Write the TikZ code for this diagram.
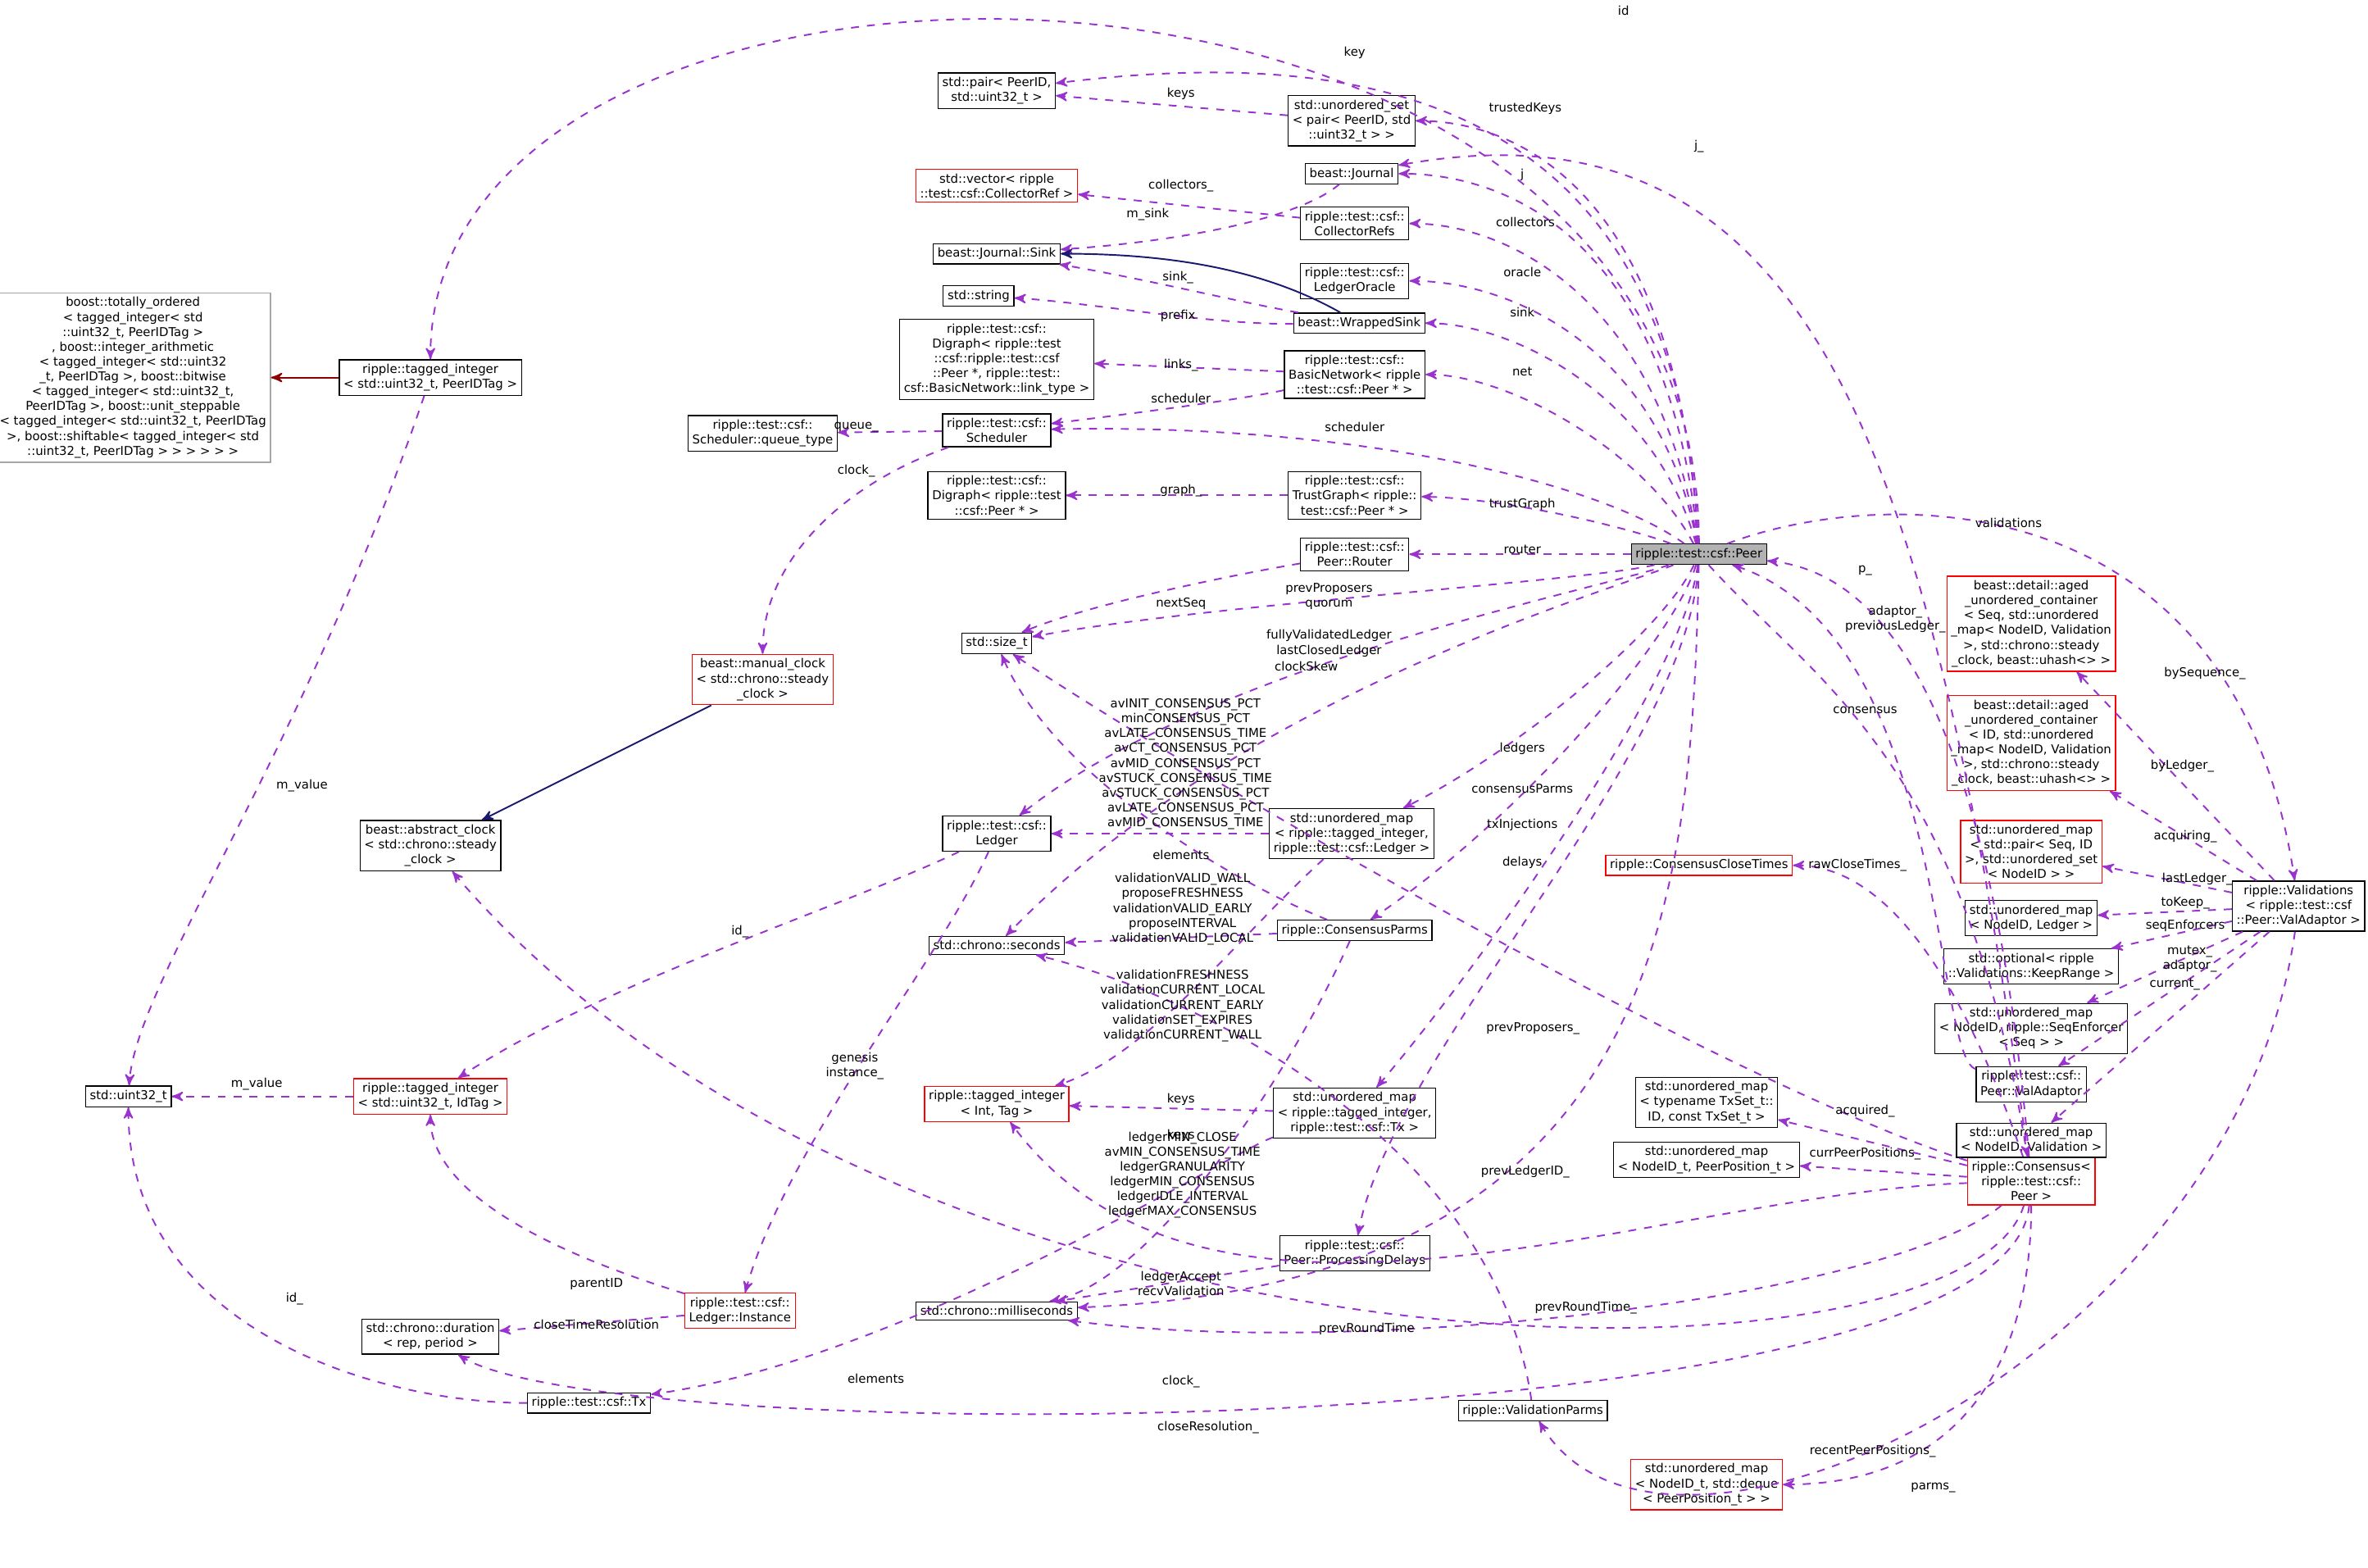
\documentclass[tikz,border=0pt]{standalone}
\usepackage{fontspec}
\setmainfont{DejaVu Sans}
\usetikzlibrary{shapes,arrows}
\definecolor{mem}{HTML}{9A32CD}
\definecolor{inh}{HTML}{191970}
\definecolor{boo}{HTML}{8B0000}
\begin{document}
\begin{tikzpicture}[%
    x=0.02cm, y=-0.02cm,
    font=\fontsize{4.6}{5.6}\selectfont,
    ]
% -------------------------------------------------
% box and connector styles
\tikzset{
  cls/.style={draw, rectangle, align=center, fill=white, inner sep=1.6pt},
  red/.style={cls, draw=red},
  grey/.style={cls, draw=gray!70},
  mm/.style={->, >=stealth', dashed, mem, semithick},
  sub/.style={->, >=stealth', inh, semithick},
  bsub/.style={->, >=stealth', boo, semithick},
  lbl/.style={text=black, align=center, inner sep=0.5pt}
}
\useasboundingbox (0,0) rectangle (1568,1038);
% -------------------------------------------------
% the nodes
\node [cls, fill=gray!60] (peer) at (1125,367) {ripple::test::csf::Peer};
\node [cls] (pair) at (660,60) {std::pair< PeerID,\\ std::uint32\_t >};
\node [cls] (uset) at (895,80) {std::unordered\_set\\< pair< PeerID, std\\::uint32\_t > >};
\node [cls] (jrnl) at (895,115) {beast::Journal};
\node [red] (vec) at (660,123) {std::vector< ripple\\::test::csf::CollectorRef >};
\node [cls] (crefs) at (897,148) {ripple::test::csf::\\CollectorRefs};
\node [cls] (sink) at (660,168) {beast::Journal::Sink};
\node [cls] (oracle) at (897,186) {ripple::test::csf::\\LedgerOracle};
\node [cls] (str) at (648,196) {std::string};
\node [cls] (wsink) at (900,214) {beast::WrappedSink};
\node [cls] (dig1) at (660,238) {ripple::test::csf::\\Digraph< ripple::test\\::csf::ripple::test::csf\\::Peer *, ripple::test::\\csf::BasicNetwork::link\_type >};
\node [cls] (bnet) at (897,248) {ripple::test::csf::\\BasicNetwork< ripple\\::test::csf::Peer * >};
\node [cls] (qtype) at (505,287) {ripple::test::csf::\\Scheduler::queue\_type};
\node [cls] (sched) at (660,285) {ripple::test::csf::\\Scheduler};
\node [cls] (dig2) at (660,328) {ripple::test::csf::\\Digraph< ripple::test\\::csf::Peer * >};
\node [cls] (tgraph) at (897,328) {ripple::test::csf::\\TrustGraph< ripple::\\test::csf::Peer * >};
\node [cls] (router) at (897,367) {ripple::test::csf::\\Peer::Router};
\node [cls] (sizet) at (660,426) {std::size\_t};
\node [red] (mclock) at (505,450) {beast::manual\_clock\\< std::chrono::steady\\\_clock >};
\node [grey] (boost) at (88,250) {boost::totally\_ordered\\< tagged\_integer< std\\::uint32\_t, PeerIDTag >\\, boost::integer\_arithmetic\\< tagged\_integer< std::uint32\\\_t, PeerIDTag >, boost::bitwise\\< tagged\_integer< std::uint32\_t,\\ PeerIDTag >, boost::unit\_steppable\\< tagged\_integer< std::uint32\_t, PeerIDTag\\ >, boost::shiftable< tagged\_integer< std\\::uint32\_t, PeerIDTag > > > > > >};
\node [cls] (tpid) at (285,250) {ripple::tagged\_integer\\< std::uint32\_t, PeerIDTag >};
\node [cls] (aclock) at (285,560) {beast::abstract\_clock\\< std::chrono::steady\\\_clock >};
\node [cls] (ledger) at (660,552) {ripple::test::csf::\\Ledger};
\node [cls] (secs) at (660,626) {std::chrono::seconds};
\node [cls] (lmap) at (895,552) {std::unordered\_map\\< ripple::tagged\_integer,\\ ripple::test::csf::Ledger >};
\node [cls] (cparms) at (897,616) {ripple::ConsensusParms};
\node [red] (cct) at (1125,573) {ripple::ConsensusCloseTimes};
\node [cls] (u32) at (85,726) {std::uint32\_t};
\node [red] (tidt) at (285,726) {ripple::tagged\_integer\\< std::uint32\_t, IdTag >};
\node [red] (tint) at (660,731) {ripple::tagged\_integer\\< Int, Tag >};
\node [cls] (txmap) at (897,737) {std::unordered\_map\\< ripple::tagged\_integer,\\ ripple::test::csf::Tx >};
\node [cls] (pdel) at (897,830) {ripple::test::csf::\\Peer::ProcessingDelays};
\node [cls] (msecs) at (660,868) {std::chrono::milliseconds};
\node [red] (inst) at (490,868) {ripple::test::csf::\\Ledger::Instance};
\node [cls] (dur) at (285,885) {std::chrono::duration\\< rep, period >};
\node [cls] (tx) at (390,929) {ripple::test::csf::Tx};
\node [cls] (vparms) at (1015,934) {ripple::ValidationParms};
\node [cls] (vals) at (1522,600) {ripple::Validations\\< ripple::test::csf\\::Peer::ValAdaptor >};
\node [red] (cons) at (1345,782) {ripple::Consensus<\\ ripple::test::csf::\\Peer >};
\node [red] (aged1) at (1345,413) {beast::detail::aged\\\_unordered\_container\\< Seq, std::unordered\\\_map< NodeID, Validation\\ >, std::chrono::steady\\\_clock, beast::uhash<> >};
\node [red] (aged2) at (1345,492) {beast::detail::aged\\\_unordered\_container\\< ID, std::unordered\\\_map< NodeID, Validation\\ >, std::chrono::steady\\\_clock, beast::uhash<> >};
\node [red] (smap) at (1345,564) {std::unordered\_map\\< std::pair< Seq, ID\\ >, std::unordered\_set\\< NodeID > >};
\node [cls] (nlmap) at (1345,608) {std::unordered\_map\\< NodeID, Ledger >};
\node [cls] (opt) at (1345,640) {std::optional< ripple\\::Validations::KeepRange >};
\node [cls] (senf) at (1345,681) {std::unordered\_map\\< NodeID, ripple::SeqEnforcer\\< Seq > >};
\node [cls] (vada) at (1345,718) {ripple::test::csf::\\Peer::ValAdaptor};
\node [cls] (nvmap) at (1345,755) {std::unordered\_map\\< NodeID, Validation >};
\node [cls] (tsmap) at (1130,730) {std::unordered\_map\\< typename TxSet\_t::\\ID, const TxSet\_t >};
\node [cls] (ppmap) at (1130,768) {std::unordered\_map\\< NodeID\_t, PeerPosition\_t >};
\node [red] (deq) at (1130,983) {std::unordered\_map\\< NodeID\_t, std::deque\\< PeerPosition\_t > >};

% -------------------------------------------------
% members of Peer
\draw[mm] (peer) .. controls (1125,-80) and (285,-80) .. (tpid);
\draw[mm] (peer) .. controls (1110,60) and (900,30) .. (pair);
\draw[mm] (peer) .. controls (1110,120) and (1000,80) .. (uset);
\draw[mm] (peer) .. controls (1105,160) and (1000,115) .. (jrnl);
\draw[mm] (peer) .. controls (1100,200) and (1000,148) .. (crefs);
\draw[mm] (peer) .. controls (1100,230) and (1000,186) .. (oracle);
\draw[mm] (peer) .. controls (1095,260) and (1000,214) .. (wsink);
\draw[mm] (peer) .. controls (1090,300) and (1000,248) .. (bnet);
\draw[mm] (peer) .. controls (1060,320) and (900,280) .. (sched);
\draw[mm] (peer) .. controls (1080,350) and (1000,330) .. (tgraph);
\draw[mm] (peer) -- (router);
\draw[mm] (peer) .. controls (1050,385) and (800,400) .. (sizet);
\draw[mm] (peer) .. controls (1060,390) and (800,440) .. (ledger);
\draw[mm] (peer) .. controls (1070,390) and (820,460) .. (secs);
\draw[mm] (peer) .. controls (1100,420) and (1000,500) .. (lmap);
\draw[mm] (peer) .. controls (1110,420) and (1010,540) .. (cparms);
\draw[mm] (peer) .. controls (1115,450) and (980,640) .. (txmap);
\draw[mm] (peer) .. controls (1118,500) and (920,700) .. (pdel);
\draw[mm] (peer) .. controls (1120,600) and (1100,850) .. (msecs);
\draw[mm] (peer) .. controls (1250,320) and (1480,320) .. (vals);
\draw[mm] (peer) .. controls (1200,450) and (1300,500) .. (cons);
% back references into Peer
\draw[mm] (cons) .. controls (1320,500) and (1260,380) .. (peer);
\draw[mm] (vada) .. controls (1280,700) and (1290,420) .. (peer);
\draw[mm] (cons) .. controls (1280,300) and (1200,60) .. (jrnl);
% other members
\draw[mm] (uset) -- (pair);
\draw[mm] (crefs) -- (vec);
\draw[mm] (jrnl) .. controls (860,145) and (780,160) .. (sink);
\draw[sub] (wsink) .. controls (840,180) and (780,168) .. (sink);
\draw[mm] (wsink) .. controls (820,200) and (760,185) .. (sink);
\draw[mm] (wsink) .. controls (800,215) and (720,200) .. (str);
\draw[mm] (bnet) -- (dig1);
\draw[mm] (bnet) .. controls (820,265) and (740,275) .. (sched);
\draw[mm] (sched) -- (qtype);
\draw[mm] (sched) .. controls (560,320) and (505,370) .. (mclock);
\draw[sub] (mclock) -- (aclock);
\draw[mm] (tgraph) -- (dig2);
\draw[mm] (router) .. controls (820,380) and (720,400) .. (sizet);
\draw[bsub] (tpid) -- (boost);
\draw[mm] (tpid) .. controls (200,500) and (90,650) .. (u32);
\draw[mm] (tidt) -- (u32);
\draw[mm] (ledger) .. controls (560,600) and (400,650) .. (tidt);
\draw[mm] (ledger) .. controls (620,640) and (520,760) .. (inst);
\draw[mm] (lmap) -- (ledger);
\draw[mm] (lmap) .. controls (820,620) and (760,700) .. (tint);
\draw[mm] (txmap) -- (tint);
\draw[mm] (txmap) .. controls (820,760) and (600,900) .. (tx);
\draw[mm] (cparms) .. controls (830,590) and (700,520) .. (sizet);
\draw[mm] (cparms) -- (secs);
\draw[mm] (vparms) .. controls (990,760) and (800,660) .. (secs);
\draw[mm] (cparms) .. controls (850,720) and (760,850) .. (msecs);
\draw[mm] (pdel) -- (msecs);
\draw[mm] (inst) .. controls (400,840) and (285,800) .. (tidt);
\draw[mm] (inst) -- (dur);
\draw[mm] (tx) .. controls (250,929) and (85,880) .. (u32);
% members of Consensus
\draw[mm] (cons) .. controls (1100,790) and (800,920) .. (tint);
\draw[mm] (cons) .. controls (1150,720) and (800,520) .. (sizet);
\draw[mm] (cons) .. controls (1250,860) and (900,900) .. (msecs);
\draw[mm] (cons) .. controls (1300,930) and (600,930) .. (aclock);
\draw[mm] (cons) .. controls (1330,960) and (400,960) .. (dur);
\draw[mm] (cons) .. controls (1300,650) and (1250,573) .. (cct);
\draw[mm] (cons) -- (tsmap);
\draw[mm] (cons) -- (ppmap);
\draw[mm] (cons) .. controls (1345,900) and (1300,983) .. (deq);
% members of Validations
\draw[mm] (vals) .. controls (1480,900) and (1100,1080) .. (vparms);
\draw[mm] (vals) -- (aged1);
\draw[mm] (vals) -- (aged2);
\draw[mm] (vals) -- (smap);
\draw[mm] (vals) -- (nlmap);
\draw[mm] (vals) -- (opt);
\draw[mm] (vals) -- (senf);
\draw[mm] (vals) -- (vada);
\draw[mm] (vals) -- (nvmap);
% -------------------------------------------------
% connector labels
\node[lbl] at (1075,7) {id};
\node[lbl] at (897,35) {key};
\node[lbl] at (1010,72) {trustedKeys};
\node[lbl] at (1008,116) {j};
\node[lbl] at (1010,147) {collectors};
\node[lbl] at (1008,180) {oracle};
\node[lbl] at (1008,207) {sink};
\node[lbl] at (1008,246) {net};
\node[lbl] at (897,283) {scheduler};
\node[lbl] at (1008,334) {trustGraph};
\node[lbl] at (1008,364) {router};
\node[lbl] at (880,395) {prevProposers\\quorum};
\node[lbl] at (880,426) {fullyValidatedLedger\\lastClosedLedger};
\node[lbl] at (865,441) {clockSkew};
\node[lbl] at (1008,496) {ledgers};
\node[lbl] at (1008,522) {consensusParms};
\node[lbl] at (1008,546) {txInjections};
\node[lbl] at (1008,571) {delays};
\node[lbl] at (1330,346) {validations};
\node[lbl] at (1235,378) {p\_};
\node[lbl] at (1255,410) {adaptor\_\\previousLedger\_};
\node[lbl] at (1235,470) {consensus};
\node[lbl] at (1125,97) {j\_};
\node[lbl] at (782,62) {keys};
\node[lbl] at (782,123) {collectors\_};
\node[lbl] at (760,142) {m\_sink};
\node[lbl] at (780,184) {sink\_};
\node[lbl] at (780,209) {prefix};
\node[lbl] at (782,242) {links\_};
\node[lbl] at (782,264) {scheduler};
\node[lbl] at (567,283) {queue\_};
\node[lbl] at (567,312) {clock\_};
\node[lbl] at (782,325) {graph\_};
\node[lbl] at (782,400) {nextSeq};
\node[lbl] at (200,520) {m\_value};
\node[lbl] at (170,718) {m\_value};
\node[lbl] at (490,617) {id\_};
\node[lbl] at (566,706) {genesis\\instance\_};
\node[lbl] at (782,566) {elements};
\node[lbl] at (782,728) {keys};
\node[lbl] at (782,752) {keys};
\node[lbl] at (580,913) {elements};
\node[lbl] at (782,850) {ledgerAccept\\recvValidation};
\node[lbl] at (395,850) {parentID};
\node[lbl] at (395,877) {closeTimeResolution};
\node[lbl] at (195,860) {id\_};
\node[lbl] at (905,880) {prevRoundTime};
\node[lbl] at (1010,776) {prevLedgerID\_};
\node[lbl] at (1015,681) {prevProposers\_};
\node[lbl] at (1050,866) {prevRoundTime\_};
\node[lbl] at (782,915) {clock\_};
\node[lbl] at (800,945) {closeResolution\_};
\node[lbl] at (1230,573) {rawCloseTimes\_};
\node[lbl] at (1235,736) {acquired\_};
\node[lbl] at (1235,764) {currPeerPositions\_};
\node[lbl] at (1240,961) {recentPeerPositions\_};
\node[lbl] at (1280,985) {parms\_};
\node[lbl] at (1460,446) {bySequence\_};
\node[lbl] at (1445,507) {byLedger\_};
\node[lbl] at (1447,554) {acquiring\_};
\node[lbl] at (1455,582) {lastLedger\_};
\node[lbl] at (1447,598) {toKeep\_};
\node[lbl] at (1447,613) {seqEnforcers};
\node[lbl] at (1450,635) {mutex\_\\adaptor\_};
\node[lbl] at (1440,652) {current\_};
\node[lbl] at (785,506) {avINIT\_CONSENSUS\_PCT\\minCONSENSUS\_PCT\\avLATE\_CONSENSUS\_TIME\\avCT\_CONSENSUS\_PCT\\avMID\_CONSENSUS\_PCT\\avSTUCK\_CONSENSUS\_TIME\\avSTUCK\_CONSENSUS\_PCT\\avLATE\_CONSENSUS\_PCT\\avMID\_CONSENSUS\_TIME};
\node[lbl] at (783,602) {validationVALID\_WALL\\proposeFRESHNESS\\validationVALID\_EARLY\\proposeINTERVAL\\validationVALID\_LOCAL};
\node[lbl] at (783,666) {validationFRESHNESS\\validationCURRENT\_LOCAL\\validationCURRENT\_EARLY\\validationSET\_EXPIRES\\validationCURRENT\_WALL};
\node[lbl] at (783,778) {ledgerMIN\_CLOSE\\avMIN\_CONSENSUS\_TIME\\ledgerGRANULARITY\\ledgerMIN\_CONSENSUS\\ledgerIDLE\_INTERVAL\\ledgerMAX\_CONSENSUS};
% -------------------------------------------------
\end{tikzpicture}
\end{document}
